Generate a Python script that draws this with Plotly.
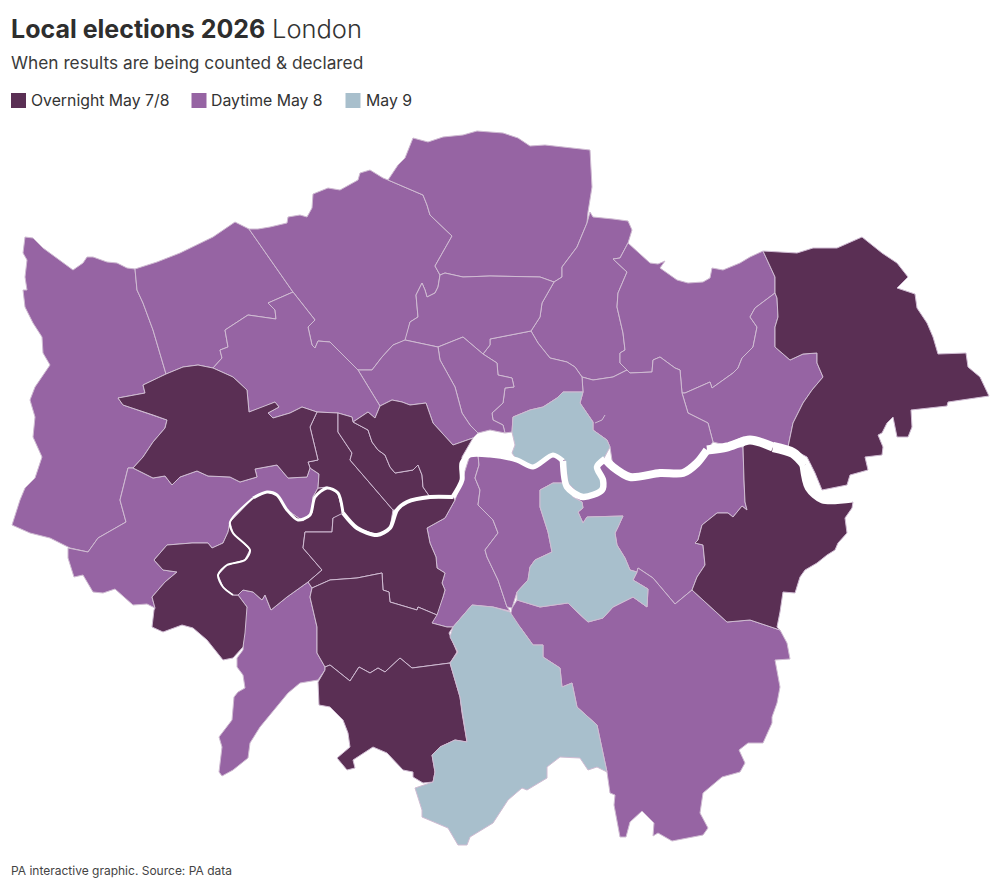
import plotly.graph_objects as go

DARK = "#5a2f54"
MID = "#9664a3"
BLUE = "#a8bfcc"
EDGE = "#cfbbd2"

TITLE_BOLD = "Local elections 2026"
TITLE_LIGHT = "London"
SUBTITLE = "When results are being counted &amp; declared"
SOURCE = "PA interactive graphic. Source: PA data"
LEGEND_NAMES = ["Overnight May 7/8", "Daytime May 8", "May 9"]
LEGEND_COLOURS = [DARK, MID, BLUE]

# Borough outlines (map units, y grows southward)
HILLINGDON = [(25,237),(33,238),(43,248),(60,260),(73,270),(83,263),(87,257),(93,257),(107,262),(117,263),(127,268),(135,269),(137,290),(143,303),(153,330),(166,374),(143,385),(145,393),(118,398),(123,405),(153,415),(167,420),(165,428),(153,442),(143,457),(133,468),(128,468),(120,500),(126,522),(98,538),(88,552),(70,548),(50,538),(30,533),(12,525),(20,500),(25,488),(35,478),(42,457),(33,437),(35,417),(30,400),(35,387),(50,365),(43,353),(42,337),(33,323),(25,307),(23,290),(27,290),(25,277),(27,260),(23,253)]
HARROW = [(135,269),(157,262),(180,253),(200,243),(213,237),(235,222),(249,229),(293,292),(268,303),(275,310),(276,319),(248,315),(225,330),(228,347),(220,350),(222,358),(213,368),(198,365),(183,367),(166,374),(153,330),(143,303),(137,290)]
BARNET = [(249,229),(258,229),(270,227),(287,223),(288,217),(300,215),(307,217),(312,208),(313,194),(328,188),(340,190),(358,180),(360,173),(370,170),(383,178),(388,180),(423,195),(427,205),(430,215),(452,236),(435,266),(440,275),(438,287),(435,293),(427,297),(425,290),(422,283),(416,295),(418,317),(410,322),(406,340),(393,345),(382,357),(372,370),(358,370),(330,342),(318,341),(315,348),(312,345),(308,327),(315,320),(293,292)]
ENFIELD = [(388,180),(398,165),(405,158),(413,138),(428,142),(443,137),(463,135),(477,131),(503,133),(518,138),(530,146),(545,145),(590,150),(592,187),(588,212),(587,223),(577,247),(562,267),(562,277),(554,282),(540,277),(490,276),(463,277),(445,273),(440,275),(435,266),(452,236),(430,215),(427,205),(423,195)]
WALTHAM = [(590,212),(593,217),(613,219),(628,221),(632,230),(628,243),(620,258),(613,259),(627,272),(618,293),(617,307),(623,333),(625,350),(620,353),(620,363),(627,370),(613,377),(593,380),(582,377),(575,367),(567,362),(550,358),(538,343),(531,331),(540,317),(542,303),(554,282),(562,277),(562,267),(577,247),(587,223)]
REDBRIDGE = [(628,243),(650,263),(658,264),(665,261),(660,268),(677,280),(688,283),(703,282),(710,278),(712,268),(723,270),(740,263),(750,257),(763,251),(775,277),(775,293),(755,308),(750,317),(757,327),(753,347),(742,358),(738,368),(733,373),(712,388),(710,382),(685,393),(682,393),(680,370),(675,368),(660,357),(653,360),(652,372),(630,373),(627,370),(620,363),(620,353),(625,350),(623,333),(617,307),(618,293),(627,272),(613,259),(620,258)]
BARKING = [(775,293),(777,298),(778,317),(775,327),(775,347),(790,360),(803,354),(817,353),(817,363),(823,377),(812,390),(803,403),(793,423),(788,447),(767,442),(743,437),(725,445),(713,442),(708,423),(688,413),(682,393),(685,393),(710,382),(712,388),(733,373),(738,368),(742,358),(753,347),(757,327),(750,317),(755,308)]
NEWHAM = [(582,377),(593,380),(613,377),(627,370),(630,373),(652,372),(653,360),(660,357),(675,368),(680,370),(682,393),(688,413),(708,423),(713,442),(697,463),(683,473),(660,473),(630,477),(613,467),(610,447),(607,440),(593,430),(593,422),(580,403),(583,392)]
HACKNEY = [(490,339),(531,331),(538,343),(550,358),(567,362),(575,367),(582,377),(583,392),(563,392),(557,398),(543,407),(530,410),(513,417),(512,432),(505,433),(503,425),(493,420),(492,413),(503,403),(505,388),(514,387),(512,378),(498,375),(497,363),(483,354),(490,345)]
HARINGEY = [(440,275),(445,273),(463,277),(490,276),(540,277),(554,282),(542,303),(540,317),(531,331),(490,339),(490,345),(483,354),(463,337),(438,347),(405,340),(410,322),(418,317),(416,295),(422,283),(425,290),(427,297),(435,293),(438,287)]
ISLINGTON = [(438,347),(463,337),(483,354),(497,363),(498,375),(512,378),(514,387),(505,388),(503,403),(492,413),(493,420),(503,425),(505,433),(490,430),(478,433),(470,425),(462,413),(455,387),(440,360)]
CAMDEN = [(358,370),(372,370),(382,357),(393,345),(405,340),(438,347),(440,360),(455,387),(462,413),(470,425),(478,433),(473,438),(453,445),(433,423),(426,403),(410,405),(402,402),(392,400),(380,406)]
BRENT = [(293,292),(315,320),(308,327),(312,345),(315,348),(318,341),(330,342),(358,370),(380,406),(375,418),(368,412),(353,422),(352,417),(338,413),(317,412),(302,407),(290,413),(273,418),(268,413),(279,407),(275,402),(263,407),(249,412),(247,390),(233,377),(213,368),(222,358),(220,350),(228,347),(225,330),(248,315),(276,319),(275,310),(268,303)]
HOUNSLOW = [(128,468),(133,468),(153,478),(165,476),(172,485),(180,477),(197,471),(208,476),(230,477),(240,482),(257,477),(255,469),(277,465),(288,478),(307,477),(310,468),(319,474),(318,488),(313,497),(312,513),(303,521),(287,510),(277,495),(267,492),(253,498),(230,522),(228,532),(223,543),(212,548),(208,543),(192,543),(167,545),(154,560),(163,570),(177,572),(165,582),(152,597),(155,608),(147,604),(133,605),(115,589),(103,593),(93,592),(83,575),(74,577),(68,558),(68,548),(88,552),(98,538),(126,522),(120,500)]
KINGSTON = [(238,595),(243,590),(253,592),(262,600),(265,595),(271,610),(287,597),(308,582),(312,588),(310,597),(317,627),(317,653),(325,667),(325,670),(318,680),(300,683),(288,693),(272,713),(260,727),(250,743),(248,758),(233,770),(222,776),(219,772),(222,747),(219,737),(232,720),(234,697),(238,692),(245,688),(243,675),(237,667),(237,658),(243,650),(245,613),(247,607)]
LAMBETH = [(470,455),(478,455),(479,465),(475,478),(480,490),(478,505),(493,520),(498,533),(485,550),(487,557),(498,580),(507,607),(510,611),(493,607),(472,605),(453,627),(447,627),(432,623),(443,597),(445,590),(442,583),(445,573),(437,568),(436,557),(430,543),(427,528),(445,518),(455,500),(462,480)]
SOUTHWARK = [(478,455),(490,455),(517,460),(533,468),(553,455),(565,460),(568,483),(553,483),(540,490),(540,507),(548,532),(552,552),(535,560),(530,567),(528,580),(517,592),(512,608),(507,607),(498,580),(487,557),(485,550),(498,533),(493,520),(478,505),(480,490),(475,478),(479,465)]
GREENWICH = [(598,495),(605,483),(598,467),(603,460),(613,467),(630,477),(660,473),(683,473),(697,463),(707,450),(727,447),(743,447),(744,480),(745,502),(747,510),(742,506),(733,517),(728,513),(717,513),(702,525),(698,540),(695,543),(703,545),(705,565),(697,577),(692,590),(675,604),(653,578),(638,568),(637,572),(630,570),(625,558),(617,545),(615,533),(618,527),(623,516),(587,517),(583,523),(578,512),(583,508),(582,502),(573,497),(583,498)]
BROMLEY = [(512,608),(517,600),(540,607),(568,603),(577,612),(588,622),(603,618),(613,607),(633,597),(647,607),(648,589),(633,580),(637,572),(638,568),(653,578),(675,604),(692,590),(703,600),(727,622),(750,620),(780,630),(787,643),(790,659),(775,660),(780,687),(777,703),(772,717),(772,723),(763,743),(748,743),(739,750),(745,763),(740,772),(722,777),(703,793),(700,813),(708,828),(703,835),(672,841),(658,833),(653,836),(654,823),(642,811),(630,822),(626,837),(620,837),(614,805),(615,795),(610,793),(607,772),(597,725),(577,707),(572,683),(562,687),(560,668),(543,657),(543,645),(533,645),(520,627),(510,617)]

RICHMOND = [(167,545),(192,543),(208,543),(212,548),(223,543),(228,532),(230,522),(233,533),(250,550),(245,560),(227,565),(218,575),(223,587),(233,595),(238,595),(247,607),(245,633),(243,647),(233,658),(223,660),(207,640),(193,628),(182,625),(163,632),(152,627),(154,610),(155,608),(152,597),(165,582),(177,572),(163,570),(154,560)]
HAVERING = [(763,251),(797,253),(813,248),(837,248),(862,237),(882,253),(897,263),(908,277),(897,288),(915,294),(917,308),(927,323),(933,337),(938,354),(966,353),(968,367),(980,377),(985,388),(989,396),(948,402),(947,406),(911,410),(912,427),(908,437),(897,437),(893,417),(887,423),(882,433),(878,435),(883,447),(882,455),(865,457),(868,470),(850,475),(847,485),(822,490),(815,473),(807,457),(788,447),(793,423),(803,403),(812,390),(823,377),(817,363),(817,353),(803,354),(790,360),(775,347),(775,327),(778,317),(777,298),(775,293),(775,277)]
BEXLEY = [(743,447),(750,440),(773,447),(793,453),(808,467),(810,487),(823,498),(847,498),(853,502),(852,508),(845,518),(847,533),(838,543),(835,550),(827,555),(817,563),(805,570),(800,577),(795,593),(783,592),(780,612),(777,627),(780,630),(750,620),(727,622),(703,600),(692,590),(697,577),(705,565),(703,545),(695,543),(698,540),(702,525),(717,513),(728,513),(733,517),(742,506),(747,510),(745,502),(744,480)]
EALING = [(166,374),(183,367),(198,365),(213,368),(233,377),(247,390),(249,412),(263,407),(275,402),(279,407),(268,413),(273,418),(290,413),(302,407),(317,412),(310,427),(318,460),(308,462),(310,468),(307,477),(288,478),(277,465),(255,469),(257,477),(240,482),(230,477),(208,476),(197,471),(180,477),(172,485),(165,476),(153,478),(133,468),(143,457),(153,442),(165,428),(167,420),(153,415),(123,405),(118,398),(145,393),(143,385)]
HAMMERSMITH = [(317,412),(338,413),(338,432),(352,453),(350,460),(373,487),(393,510),(390,528),(377,535),(357,528),(343,513),(338,493),(327,487),(318,488),(319,474),(310,468),(308,462),(318,460),(310,427)]
KENSINGTON = [(338,413),(352,417),(353,422),(368,430),(372,442),(378,450),(385,455),(390,467),(395,473),(413,470),(418,465),(422,475),(423,487),(430,497),(407,502),(397,510),(393,510),(373,487),(350,460),(352,453),(338,432)]
WESTMINSTER = [(353,422),(368,412),(375,418),(380,406),(392,400),(402,402),(410,405),(426,403),(433,423),(453,445),(473,438),(462,457),(462,480),(453,497),(430,497),(423,487),(422,475),(418,465),(413,470),(395,473),(390,467),(385,455),(378,450),(372,442),(368,430)]
WANDSWORTH_WEST = [(230,522),(253,498),(267,492),(277,495),(287,510),(303,521),(312,513),(313,497),(318,488),(327,487),(338,493),(343,513),(343,522),(333,518),(332,532),(305,532),(303,548),(322,570),(308,582),(287,597),(271,610),(265,595),(262,600),(253,592),(243,590),(238,595),(233,595),(223,587),(218,575),(227,565),(245,560),(250,550),(233,533)]
WANDSWORTH = [(333,518),(343,513),(357,528),(377,535),(390,528),(397,510),(407,502),(430,497),(453,497),(455,500),(445,518),(427,528),(430,543),(436,557),(437,568),(445,573),(442,583),(445,590),(443,597),(437,615),(418,607),(417,610),(390,602),(389,592),(383,590),(382,573),(357,578),(330,580),(312,588),(308,582),(322,570),(303,548),(305,532),(332,532)]
MERTON = [(312,588),(330,580),(357,578),(382,573),(383,590),(389,592),(390,602),(417,610),(418,607),(437,615),(432,623),(447,627),(453,627),(449,633),(457,652),(450,663),(412,668),(400,658),(385,672),(378,668),(370,673),(359,667),(350,681),(330,665),(325,667),(317,653),(317,627),(310,597)]
SUTTON = [(325,667),(330,665),(350,681),(359,667),(370,673),(378,668),(385,672),(400,658),(412,668),(450,663),(460,697),(462,713),(467,742),(455,740),(440,747),(432,755),(435,772),(433,782),(423,783),(413,777),(413,772),(403,770),(387,753),(373,747),(353,760),(355,768),(347,770),(337,758),(350,747),(348,733),(343,720),(330,707),(319,705),(318,682),(325,670)]

CROYDON = [(453,627),(472,605),(493,607),(510,612),(520,627),(533,645),(543,645),(543,657),(560,668),(562,687),(572,683),(577,707),(597,725),(607,772),(597,767),(588,770),(580,758),(560,757),(547,767),(547,778),(527,790),(522,788),(508,800),(503,808),(493,823),(470,837),(467,845),(458,845),(448,828),(422,817),(422,810),(415,788),(433,782),(435,772),(432,755),(440,747),(455,740),(467,742),(462,713),(460,697),(450,663),(458,652),(450,637)]
LEWISHAM = [(540,490),(553,483),(568,483),(573,497),(582,502),(583,508),(578,512),(583,523),(587,517),(623,516),(618,527),(615,533),(617,545),(625,558),(630,570),(637,572),(633,580),(648,589),(647,607),(633,597),(613,607),(603,618),(588,622),(577,612),(568,603),(540,607),(517,600),(517,592),(528,580),(530,567),(535,560),(552,552),(548,532),(540,507)]
TOWER_HAMLETS = [(583,392),(563,392),(557,398),(543,407),(530,410),(513,417),(512,432),(515,445),(512,453),(517,460),(533,468),(553,455),(565,460),(568,483),(583,498),(598,495),(605,483),(598,467),(603,460),(610,447),(607,440),(593,430),(593,422),(580,403)]

DAYTIME = [HILLINGDON, HARROW, BARNET, ENFIELD, WALTHAM, REDBRIDGE, BARKING, NEWHAM, HACKNEY, HARINGEY, ISLINGTON, CAMDEN, BRENT, HOUNSLOW, KINGSTON, LAMBETH, SOUTHWARK, GREENWICH, BROMLEY]
OVERNIGHT = [RICHMOND, WANDSWORTH_WEST, HAMMERSMITH, KENSINGTON, WESTMINSTER, EALING, WANDSWORTH, MERTON, SUTTON, HAVERING, BEXLEY]
MAY9 = [CROYDON, LEWISHAM, TOWER_HAMLETS]
INLET = [(605,415),(602,420),(595,423)]

# Thames centre line, split into reaches that get wider downstream
THAMES_REACHES = [
    (2, [(233,595),(223,587),(218,575),(227,565),(245,560),(250,550),(233,533),(230,522),(253,498)]),
    (3, [(253,498),(267,492),(277,495),(287,510),(298,520),(310,515),(315,497),(327,488),(338,493),(343,513)]),
    (4, [(343,513),(357,528),(377,535),(390,528),(397,510),(407,502),(430,497),(453,497)]),
    (5, [(453,497),(462,480),(462,463),(470,455),(490,455),(517,460),(533,467),(553,455),(563,461)]),
    (6.5, [(563,461),(567,487),(583,497),(602,490),(603,480),(597,467),(605,459)]),
    (8, [(605,459),(613,467),(630,477),(660,473),(683,473),(697,463),(707,450)]),
    (9, [(707,450),(727,447),(750,440),(773,447)]),
    (10, [(773,447),(793,453),(805,465)]),
    (11, [(805,465),(810,487),(823,498),(852,497)]),
]

fig = go.Figure()
for colour, polys in [(MID, DAYTIME), (DARK, OVERNIGHT), (BLUE, MAY9)]:
    for poly in polys:
        xs, ys = zip(*poly)
        fig.add_trace(go.Scatter(
            x=list(xs) + [xs[0]], y=list(ys) + [ys[0]], mode="lines", fill="toself",
            fillcolor=colour, line=dict(color=EDGE, width=1),
            hoverinfo="skip", showlegend=False))

xs, ys = zip(*INLET)
fig.add_trace(go.Scatter(x=xs, y=ys, mode="lines", line=dict(color=EDGE, width=1), hoverinfo="skip", showlegend=False))

for width, reach in THAMES_REACHES:
    xs, ys = zip(*reach)
    fig.add_trace(go.Scatter(x=xs, y=ys, mode="lines",
                             line=dict(color="white", width=width, shape="spline", smoothing=0.8),
                             hoverinfo="skip", showlegend=False))

KEY_X = [18.5, 199, 353]
KEY_LABEL_X = [28.5, 209, 364]
KEY_Y = 100.5
fig.add_trace(go.Scatter(x=KEY_X, y=[KEY_Y] * 3, mode="markers", hoverinfo="skip", showlegend=False,
                         marker=dict(symbol="square", size=15, color=LEGEND_COLOURS)))

FONT = "Inter, Arial, sans-serif"
def label(x, y, text, size, color, weight=400):
    return dict(x=x, y=y, xref="x", yref="y", xanchor="left", yanchor="middle", showarrow=False, text=text,
                font=dict(family=FONT, size=size, color=color, weight=weight))

fig.update_layout(
    width=1000, height=891, margin=dict(l=0, r=0, t=0, b=0), autosize=False,
    paper_bgcolor="white", plot_bgcolor="white", showlegend=False,
    xaxis=dict(range=[0, 1000], visible=False, fixedrange=True),
    yaxis=dict(range=[891, 0], visible=False, fixedrange=True),
    annotations=[
        label(9, 28.5, TITLE_BOLD, 25, "#2e2e2e", 700),
        label(270, 28.5, TITLE_LIGHT, 25.5, "#333333", 300),
        label(9, 62, SUBTITLE, 17.3, "#3a3a3a"),
        label(9, 870, SOURCE, 12, "#444444"),
    ] + [label(x, 100.5, name, 15.8, "#333333") for x, name in zip(KEY_LABEL_X, LEGEND_NAMES)],
)
fig.write_html("out.html", config={"displayModeBar": False},
               post_script="document.body.style.margin='0';")
